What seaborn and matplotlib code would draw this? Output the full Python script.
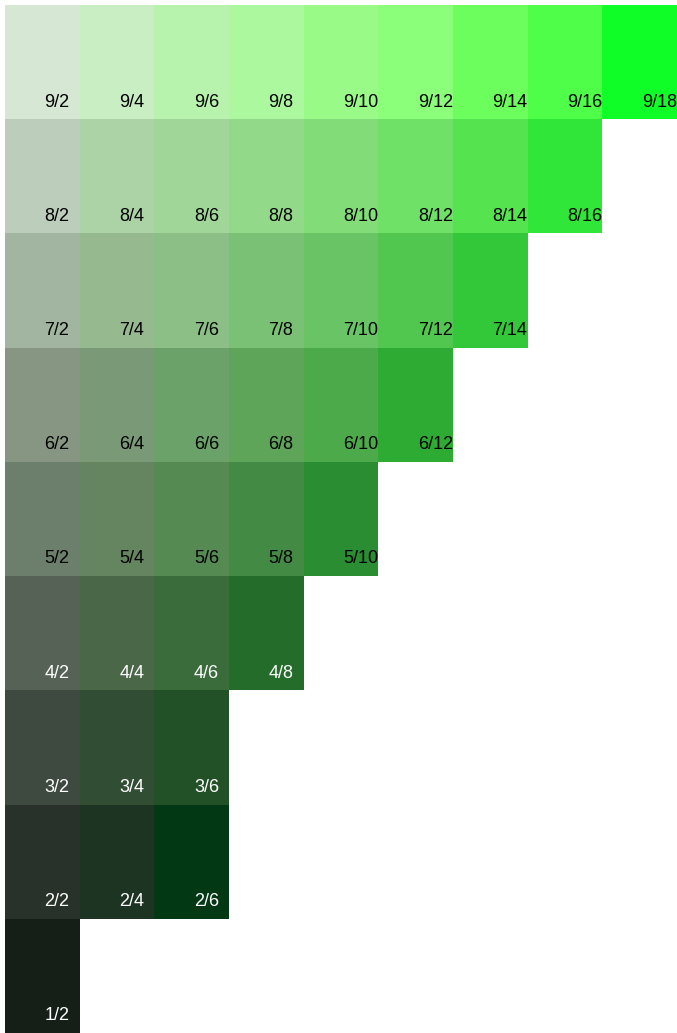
import numpy as np
import pandas as pd
import matplotlib
matplotlib.use("Agg")
import matplotlib.pyplot as plt
from matplotlib.colors import ListedColormap
import seaborn as sns

values = [9, 8, 7, 6, 5, 4, 3, 2, 1]
chromas = [2, 4, 6, 8, 10, 12, 14, 16, 18]

row9 = ["#d6e8d4", "#caeec4", "#b7f3ad", "#abf89e", "#99fa88", "#8bfe7a", "#6cfe5c", "#4efe48", "#10fe28"]
row8 = ["#bdcdbb", "#abd3a6", "#a0d698", "#92da89", "#82dc77", "#6ee166", "#55e350", "#30e638"]
row7 = ["#a2b5a0", "#96b990", "#8bbf85", "#7bc175", "#69c465", "#52c750", "#33c83a"]
row6 = ["#869683", "#7a9a77", "#6ba269", "#5ea55a", "#4daa4a", "#2eab33"]
row5 = ["#6c7f6c", "#64855f", "#558b53", "#438b45", "#2a8d31"]
row4 = ["#566255", "#4a6848", "#3a6b3b", "#246c29"]
row3 = ["#3e4a3f", "#314d33", "#225027"]
row2 = ["#29322a", "#1c3421", "#023814"]
row1 = ["#151e17"]

rows = [row9, row8, row7, row6, row5, row4, row3, row2, row1]

# build index matrix + colour list
colors = []
idx = np.full((len(values), len(chromas)), np.nan)
for r, row in enumerate(rows):
    for c, col in enumerate(row):
        idx[r, c] = len(colors)
        colors.append(col)

df = pd.DataFrame(idx, index=values, columns=chromas)
cmap = ListedColormap(colors)

fig = plt.figure(figsize=(6.77, 10.33), dpi=100)
ax = fig.add_axes([5 / 677, 0, 672 / 677, 1028 / 1033])
sns.heatmap(df, ax=ax, cmap=cmap, vmin=-0.5, vmax=len(colors) - 0.5,
            cbar=False, mask=df.isna(), linewidths=0, xticklabels=False,
            yticklabels=False)
ax.set_xlabel("")
ax.set_ylabel("")
for s in ax.spines.values():
    s.set_visible(False)

for r, row in enumerate(rows):
    v = values[r]
    for c in range(len(row)):
        ch = chromas[c]
        t = ax.text(c + 0.53, r + 0.85, f"{v}/{ch}", ha="left", va="center",
                    fontsize=13, family=["Liberation Sans", "DejaVu Sans"],
                    color="black" if v >= 5 else "white")
        clip = matplotlib.patches.Rectangle((c, r), 1, 1, transform=ax.transData)
        t.set_clip_path(clip)

fig.savefig("out.png", dpi=100)
